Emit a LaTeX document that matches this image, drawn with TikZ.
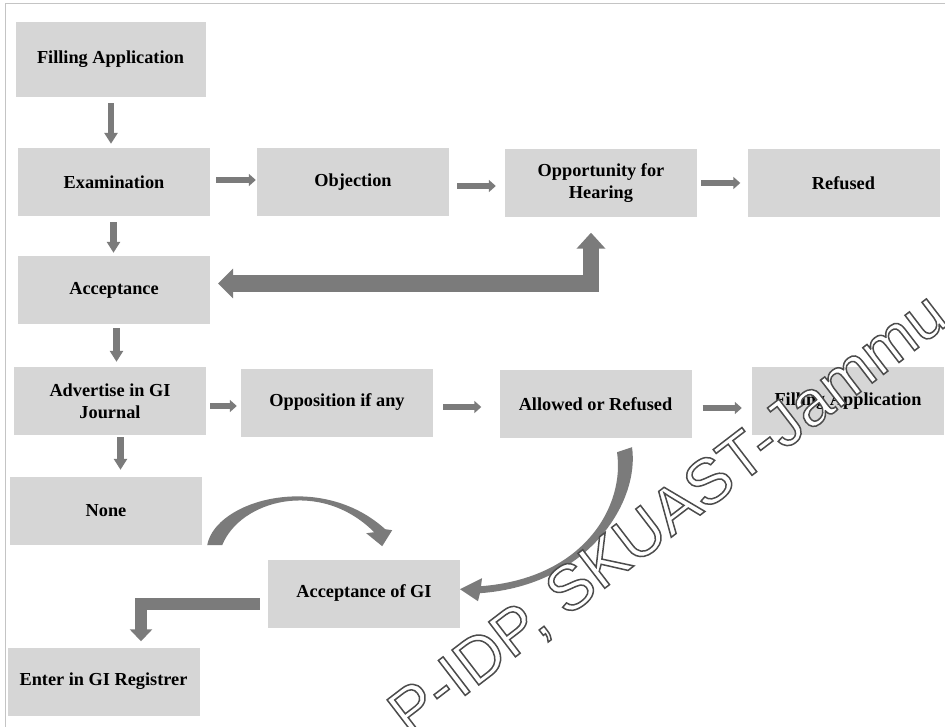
\documentclass[tikz,border=0pt]{standalone}
\usepackage{fontspec}
\setmainfont{Liberation Serif}
\newfontfamily\wmfont{Liberation Sans}
\usetikzlibrary{arrows.meta,positioning,calc}
\definecolor{boxgray}{HTML}{D6D6D6}
\definecolor{arrowgray}{HTML}{7B7B7B}
\definecolor{framegray}{HTML}{C4C4C4}
% outlined text for the watermark
\newcommand{\outlinetext}[1]{\special{pdf:code 2 Tr 1.5 w 0.3 G}#1\special{pdf:code 0 Tr}}

\begin{document}
\begin{tikzpicture}[
      x=1pt, y=-1pt,
      every node/.style={on grid},
      procbox/.style={fill=boxgray, minimum width=192pt, minimum height=68pt,
        inner sep=2pt, align=center, font=\bfseries\fontsize{18.3}{22}\selectfont},
      varrow/.style={arrowgray, line width=6.5pt, -{Triangle[width=13pt,length=11pt]}},
      harrow/.style={arrowgray, line width=5.5pt, -{Triangle[width=12pt,length=7pt]}},
      bigarrow/.style={arrowgray, line width=16.5pt, line join=miter,
        {Triangle[width=28pt,length=16pt]}-{Triangle[width=29pt,length=15pt]}},
      larrow/.style={arrowgray, line width=12pt, line join=miter,
        -{Triangle[width=22pt,length=12pt]}},
      wmark/.style={rotate=37.5, inner sep=0pt, text=white, font=\wmfont\fontsize{64}{64}\selectfont}
    ]
    \useasboundingbox (0,0) rectangle (945,727);
    \draw[framegray, line width=1pt] (5,727) -- (5,4) -- (945,4);

    % left column
    \node[procbox, minimum width=190pt, minimum height=75pt] (filing) at (110.5,59.5) {Filling Application};
    \node[procbox, below=122.5pt of filing, xshift=3.5pt] (exam) {Examination};
    \node[procbox, below=108pt of exam] (acc) {Acceptance};
    \node[procbox, below=111pt of acc, xshift=-4pt] (adv) {Advertise in GI\\Journal};
    \node[procbox, below=110pt of adv, xshift=-4pt] (none) {None};

    % objection row
    \node[procbox, right=239pt of exam] (obj) {Objection};
    \node[procbox, right=248pt of obj, yshift=-1.5pt] (opp) {Opportunity for\\Hearing};
    \node[procbox, right=242.5pt of opp] (ref) {Refused};

    % opposition row
    \node[procbox, right=227pt of adv, yshift=-1.5pt] (oppo) {Opposition if any};
    \node[procbox, right=258.5pt of oppo, yshift=-1.5pt] (allow) {Allowed or Refused};
    \node[procbox, right=252.5pt of allow, yshift=3pt] (filing2) {Filling Application};

    % bottom
    \node[procbox, below right=82.5pt and 258pt of none] (accgi) {Acceptance of GI};
    \node[procbox, below=170.5pt of none, xshift=-2.5pt] (enter) {Enter in GI Registrer};

    % the straight arrows
    \draw[varrow] ($(filing.south)+(0.5,6)$) -- ($(filing.south |- exam.north)+(0.5,-4)$);
    \draw[varrow] ($(exam.south)+(-0.5,6)$) -- ($(exam.south |- acc.north)+(-0.5,-3)$);
    \draw[varrow] ($(acc.south)+(2.5,4)$) -- ($(acc.south |- adv.north)+(2.5,-5)$);
    \draw[varrow] ($(adv.south)+(10.5,2)$) -- ($(adv.south |- none.north)+(10.5,-7)$);
    \draw[harrow] ($(exam.east)+(6,-2)$) -- ($(exam.east -| obj.west)+(-1,-2)$);
    \draw[harrow] ($(obj.east)+(8,4)$) -- ($(obj.east -| opp.west)+(-9,4)$);
    \draw[harrow] ($(opp.east)+(4,-0.5)$) -- ($(opp.east -| ref.west)+(-7,-0.5)$);
    \draw[harrow] ($(adv.east)+(4,5)$) -- ($(adv.east -| oppo.west)+(-4,5)$);
    \draw[harrow] ($(oppo.east)+(10,4.5)$) -- ($(oppo.east -| allow.west)+(-18,4.5)$);
    \draw[harrow] ($(allow.east)+(11,4)$) -- ($(allow.east -| filing2.west)+(-10,4)$);

    % the bent arrows
    \draw[bigarrow] ($(opp.south)+(-10,15)$) |- ($(acc.east)+(8,-6.5)$);
    \draw[larrow] ($(accgi.west)+(-8,10.5)$) -| ($(enter.north)+(37.5,-6)$);

    % the curved arrows
    \begin{scope}[shift={(none.south east)}]
    \fill[arrowgray] (5,0) .. controls (13,-45) and (118,-75) .. (183,-16)
      -- (190,-15) -- (180,1) -- (164,-12) -- (172,-13)
      .. controls (118,-67) and (38,-45) .. (20,0) -- cycle;
    \end{scope}
    \begin{scope}[shift={(allow.south)}]
    \fill[arrowgray] (36.5,9) .. controls (44.5,62) and (-5.5,147) .. (-115.5,155)
      -- (-117.5,163) -- (-135.5,151) -- (-113.5,140) -- (-114.5,148)
      .. controls (-10.5,140) and (29.5,67) .. (21.5,14) -- cycle;
    \end{scope}

    % the watermark
    \node[wmark] (wm) at (669,516) {\outlinetext{P-IDP, SKUAST-Jammu}};
\end{tikzpicture}
\end{document}
